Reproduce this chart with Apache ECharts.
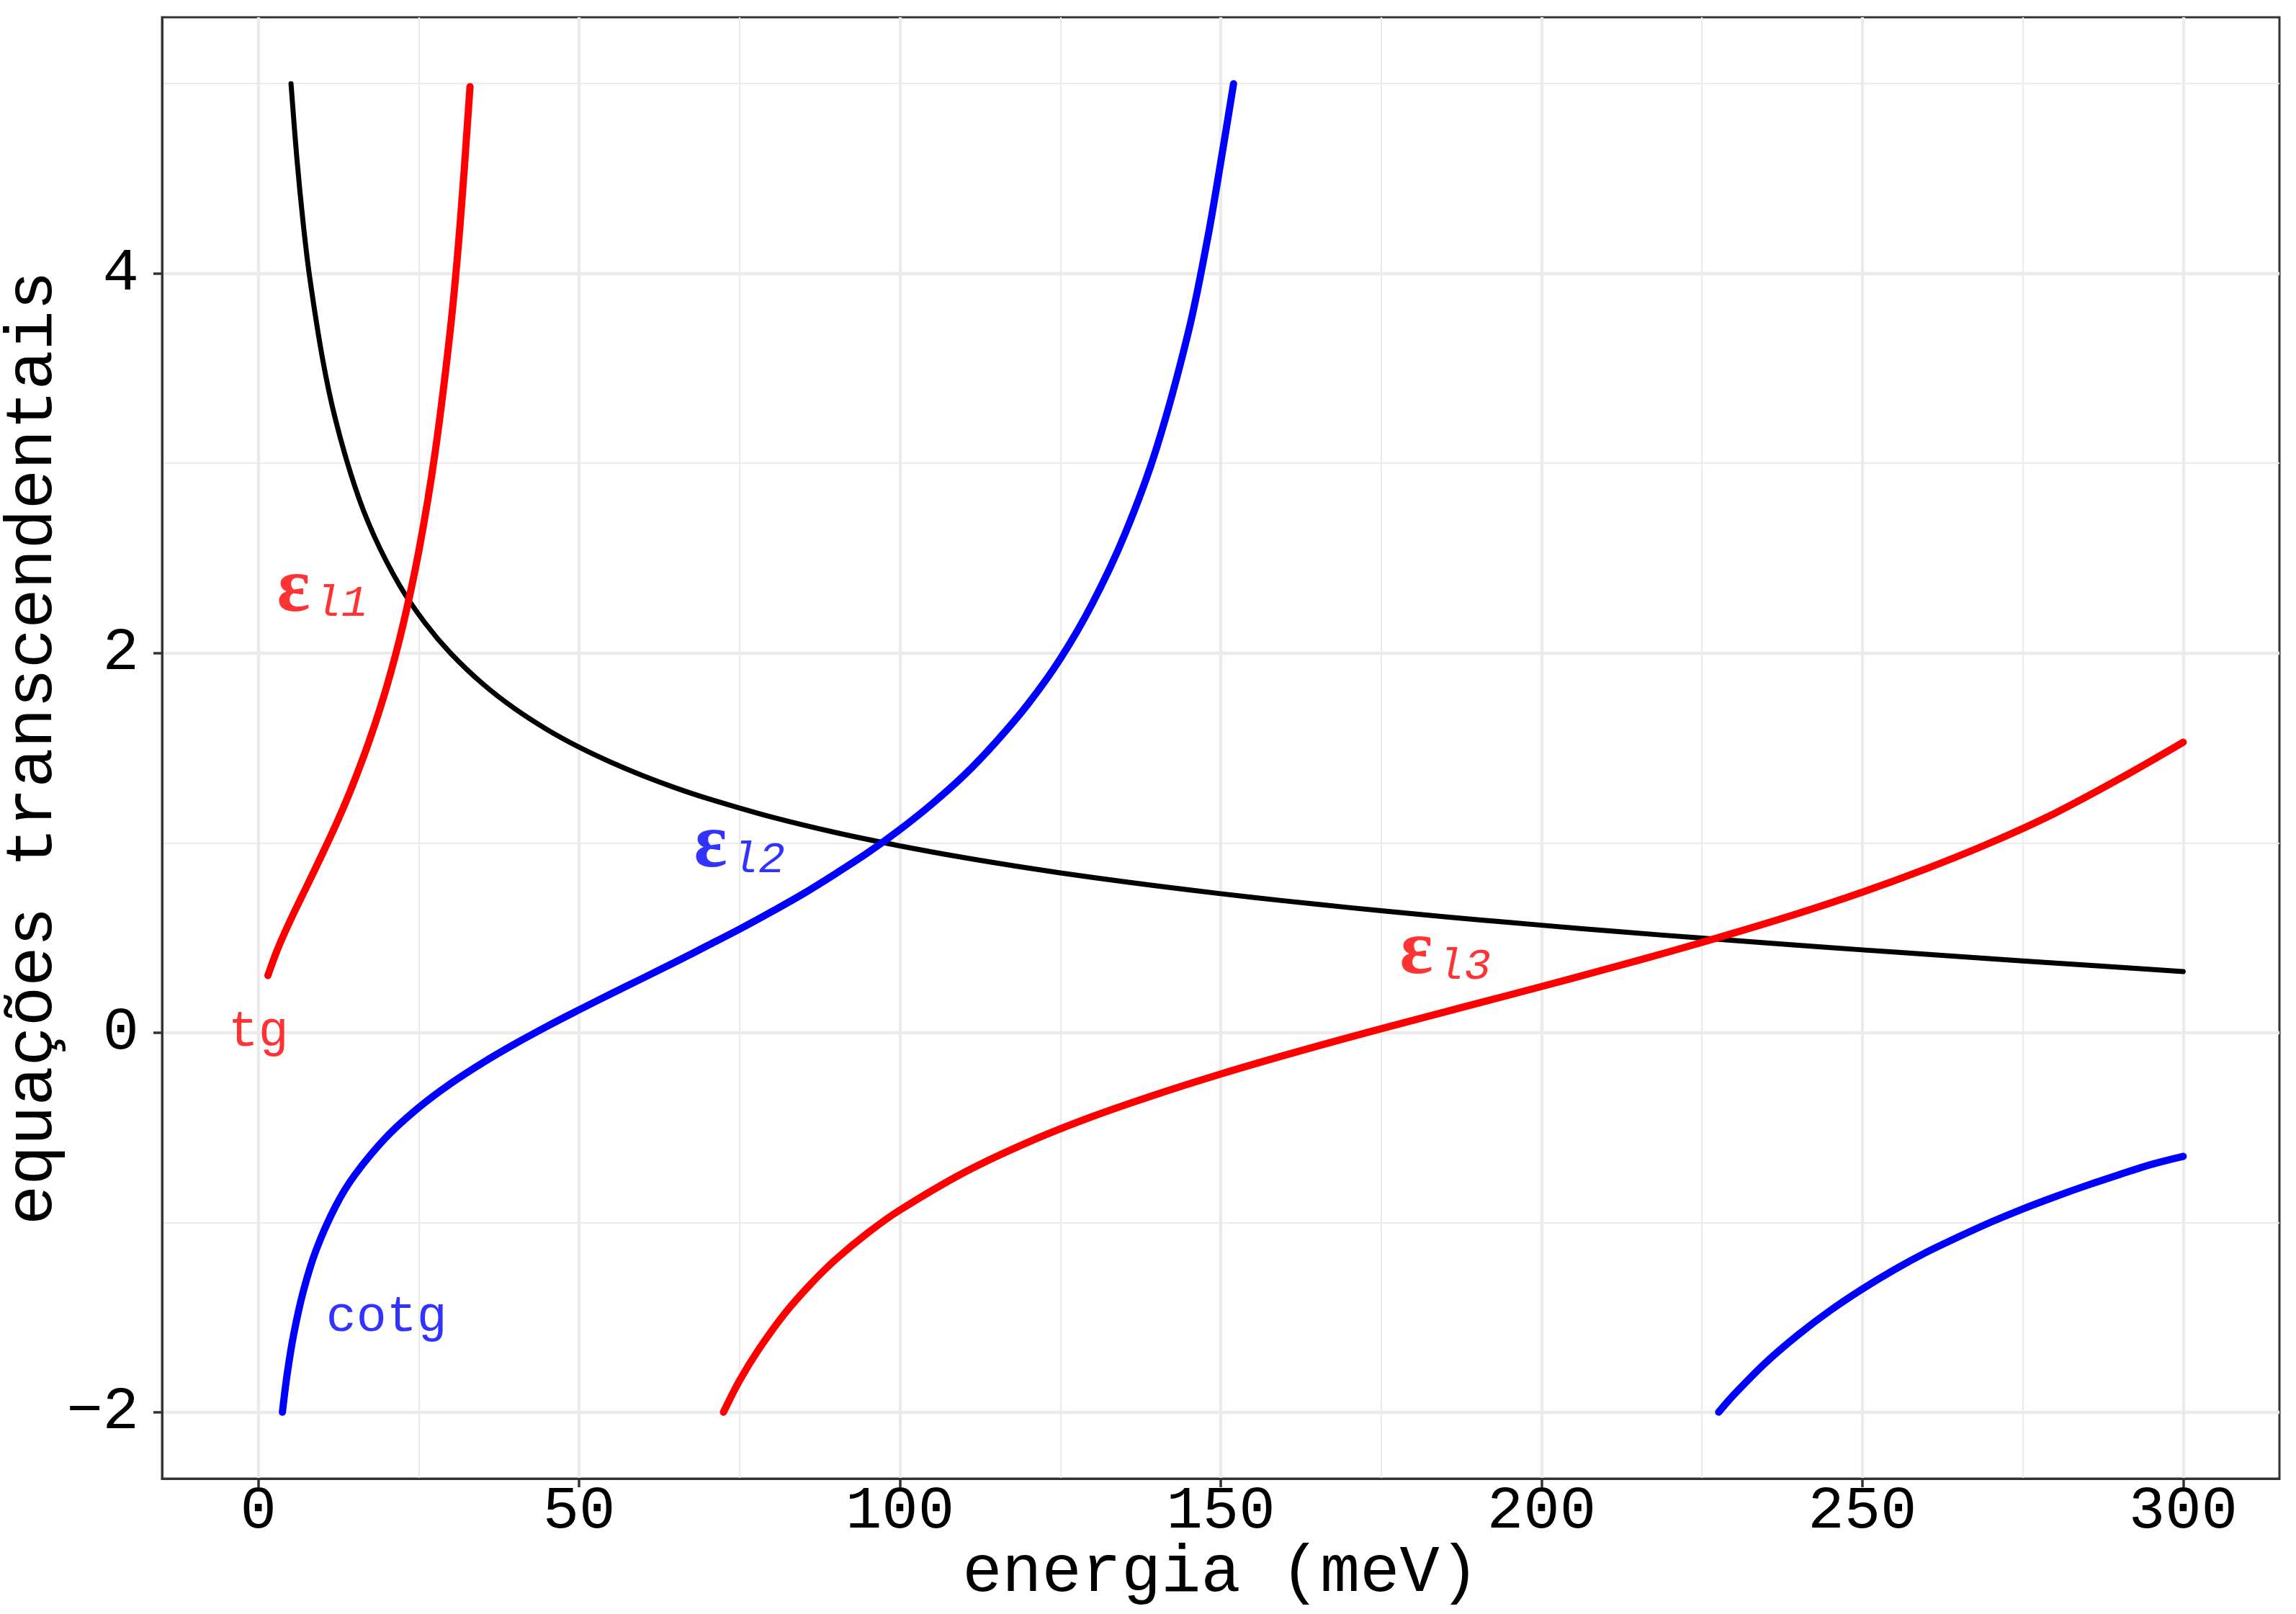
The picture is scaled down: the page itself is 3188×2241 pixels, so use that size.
<!DOCTYPE html>
<html><head><meta charset="utf-8">
<script src="https://cdn.jsdelivr.net/npm/echarts@6/dist/echarts.min.js"></script>
<style>html,body{margin:0;padding:0;background:#fff}#c{width:3188px;height:2241px}</style>
</head><body><div id="c"></div>
<script>
// ---- tick / grid values ----
const xTicks = [0, 50, 100, 150, 200, 250, 300];
const xMinor = [25, 75, 125, 175, 225, 275];
const yTicks = [-2, 0, 2, 4];
const yMinor = [-1, 1, 3, 5];

// ---- curves ----
const blackX = [5.1, 6, 7, 8, 10, 12, 15, 18, 22, 26, 30, 35, 40, 45, 50, 55, 60, 65, 70, 80, 90, 100, 110, 120, 130, 140, 150, 160, 170, 180, 190, 200, 212, 225, 237, 250, 262, 275, 287, 300];
const blackY = [5.00, 4.612, 4.264, 3.983, 3.554, 3.235, 2.883, 2.621, 2.358, 2.158, 1.998, 1.837, 1.706, 1.597, 1.504, 1.424, 1.353, 1.290, 1.234, 1.136, 1.054, 0.984, 0.922, 0.867, 0.818, 0.773, 0.732, 0.694, 0.659, 0.626, 0.595, 0.566, 0.532, 0.498, 0.468, 0.436, 0.408, 0.378, 0.351, 0.322];

const tg1X = [1.5, 3, 5, 7.5, 10, 12.5, 15, 17.5, 20, 22.5, 25, 27.5, 30, 31.5, 33];
const tg1Y = [0.301, 0.439, 0.592, 0.767, 0.943, 1.126, 1.329, 1.557, 1.821, 2.140, 2.534, 3.043, 3.726, 4.279, 4.985];

const cotg1X = [3.76, 4.5, 5.5, 7, 9, 12, 15, 20, 25, 30, 35, 40, 45, 50, 55, 60, 65, 70, 75, 80, 85, 90, 95, 100, 105, 110, 115, 120, 125, 130, 135, 140, 145, 148, 150, 152];
const cotg1Y = [-2.00, -1.800, -1.593, -1.365, -1.147, -0.918, -0.752, -0.549, -0.395, -0.268, -0.158, -0.059, 0.033, 0.120, 0.205, 0.288, 0.372, 0.458, 0.545, 0.637, 0.733, 0.838, 0.948, 1.070, 1.205, 1.356, 1.533, 1.733, 1.970, 2.262, 2.622, 3.081, 3.698, 4.193, 4.587, 5.00];

const tg2X = [72.5, 75, 78, 82, 86, 90, 95, 100, 110, 120, 130, 140, 150, 160, 170, 180, 190, 200, 210, 220, 230, 240, 250, 260, 270, 280, 290, 300];
const tg2Y = [-2.00, -1.834, -1.669, -1.482, -1.328, -1.195, -1.055, -0.935, -0.737, -0.577, -0.442, -0.325, -0.218, -0.119, -0.025, 0.065, 0.154, 0.243, 0.334, 0.427, 0.525, 0.628, 0.740, 0.864, 1.001, 1.156, 1.336, 1.530];

const cotg2X = [227.6, 230, 235, 240, 245, 250, 255, 260, 265, 270, 275, 280, 285, 290, 295, 300];
const cotg2Y = [-2.00, -1.907, -1.737, -1.592, -1.464, -1.351, -1.249, -1.157, -1.076, -0.999, -0.929, -0.865, -0.805, -0.749, -0.695, -0.652];

// ---- annotations ----
const annText = ['tg', 'cotg'];
const annX = [0, 20];
const annY = [0, -1.5];
const epsSub = ['l1', 'l2', 'l3'];
const epsX = [10, 75, 185];
const epsY = [2.33, 0.98, 0.42];

const MONO = '"Liberation Mono", "DejaVu Sans Mono", monospace';
const SERIF = '"Liberation Serif", "DejaVu Serif", serif';
const RED = '#FF0000', BLUE = '#0000FF';

function pairs(xs, ys) { return xs.map((x, i) => [x, ys[i]]); }
function minus(v) { return String(v).replace('-', '\u2212'); }

const majorStyle = { color: '#EBEBEB', width: 4.3, type: 'solid' };
const minorStyle = { color: '#EBEBEB', width: 2.2, type: 'solid' };
const gridMarks = []
  .concat(xMinor.map(v => ({ xAxis: v, lineStyle: minorStyle })))
  .concat(yMinor.map(v => ({ yAxis: v, lineStyle: minorStyle })))
  .concat(xTicks.map(v => ({ xAxis: v, lineStyle: majorStyle })))
  .concat(yTicks.map(v => ({ yAxis: v, lineStyle: majorStyle })));

function curve(xs, ys, color, width) {
  return {
    type: 'line', data: pairs(xs, ys), showSymbol: false, symbol: 'none',
    smooth: 0.35, z: 3, silent: true,
    lineStyle: { color: color, width: width, cap: 'round', join: 'round' }
  };
}

const epsColors = [RED, BLUE, RED];
const epsData = epsSub.map((s, i) => ({
  value: [epsX[i], epsY[i]],
  label: {
    formatter: '{e|ε}{s|' + s + '}',
    rich: {
      e: { fontFamily: SERIF, fontWeight: 'bold', fontSize: 108, lineHeight: 108, color: epsColors[i], verticalAlign: 'top' },
      s: { fontFamily: MONO, fontStyle: 'italic', fontSize: 62, lineHeight: 62, color: epsColors[i], verticalAlign: 'top', padding: [42, 0, 0, 6] }
    }
  }
}));
const annColors = [RED, BLUE];
const annData = annText.map((t, i) => ({
  value: [annX[i], annY[i]],
  label: { formatter: t, color: annColors[i], fontFamily: MONO, fontSize: 70 }
}));

const axisLineStyle = { show: true, onZero: false, lineStyle: { color: '#333333', width: 3 } };

const option = {
  animation: false,
  backgroundColor: '#fff',
  grid: { left: 225, right: 23, top: 24, bottom: 188, show: true, borderColor: '#333333', borderWidth: 3, backgroundColor: 'transparent', containLabel: false, outerBoundsMode: 'none' },
  xAxis: {
    type: 'value', min: -15, max: 315, position: 'bottom',
    axisLine: axisLineStyle, splitLine: { show: false },
    axisTick: { show: true, inside: false, customValues: xTicks, length: 12, lineStyle: { color: '#333333', width: 3.5 } },
    axisLabel: { customValues: xTicks, margin: 4, fontFamily: MONO, fontSize: 84, color: '#000', formatter: minus },
    name: 'energia (meV)', nameLocation: 'middle', nameGap: 86, nameMoveOverlap: false,
    nameTextStyle: { fontFamily: MONO, fontSize: 92, color: '#000' }
  },
  yAxis: {
    type: 'value', min: -2.35, max: 5.35, position: 'left',
    axisLine: axisLineStyle, splitLine: { show: false },
    axisTick: { show: true, inside: false, customValues: yTicks, length: 12, lineStyle: { color: '#333333', width: 3.5 } },
    axisLabel: { customValues: yTicks, margin: 32, fontFamily: MONO, fontSize: 84, color: '#000', formatter: minus },
    name: 'equações transcendentais', nameLocation: 'middle', nameGap: 132, nameRotate: 90, nameMoveOverlap: false,
    nameTextStyle: { fontFamily: MONO, fontSize: 92, color: '#000' }
  },
  series: [
    { type: 'line', data: [], z: 0, silent: true,
      markLine: { z: 0, silent: true, symbol: ['none', 'none'], label: { show: false }, emphasis: { disabled: true }, animation: false, data: gridMarks } },
    curve(blackX, blackY, '#000000', 7),
    curve(tg1X, tg1Y, RED, 10),
    curve(cotg1X, cotg1Y, BLUE, 10),
    curve(tg2X, tg2Y, RED, 10),
    curve(cotg2X, cotg2Y, BLUE, 10),
    { type: 'scatter', data: annData.concat(epsData), symbolSize: 1, z: 5, silent: true,
      itemStyle: { color: 'transparent' },
      label: { show: true, position: 'inside', align: 'center', verticalAlign: 'middle' } }
  ]
};
echarts.init(document.getElementById('c'), null, { renderer: 'canvas' }).setOption(option);
</script></body></html>
